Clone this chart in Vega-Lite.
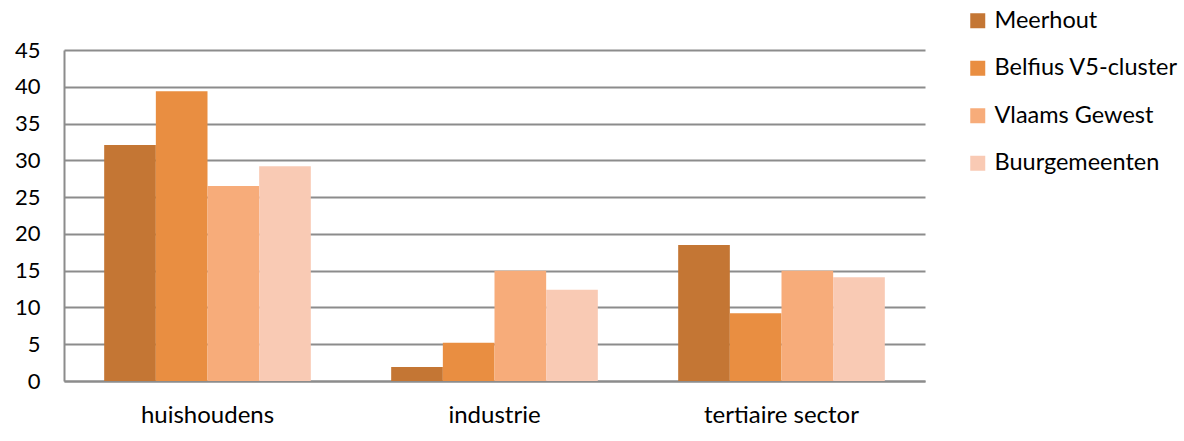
{
  "$schema": "https://vega.github.io/schema/vega-lite/v6.json",
  "autosize": "none",
  "padding": {"left": 64, "top": 50, "right": 259, "bottom": 60},
  "width": 861,
  "height": 331,
  "background": "white",
  "title": {
    "text": "Industrie en tertiaire sector in 2013",
    "anchor": "start",
    "frame": "group",
    "dx": -8,
    "dy": 30,
    "offset": 0,
    "baseline": "alphabetic",
    "font": "Lato",
    "fontSize": 44,
    "fontWeight": "bold",
    "color": "#000000"
  },
  "data": {
    "values": [
      {"sector": "huishoudens", "regio": "Meerhout", "waarde": 32.1},
      {"sector": "huishoudens", "regio": "Belfius V5-cluster", "waarde": 39.4},
      {"sector": "huishoudens", "regio": "Vlaams Gewest", "waarde": 26.5},
      {"sector": "huishoudens", "regio": "Buurgemeenten", "waarde": 29.2},
      {"sector": "industrie", "regio": "Meerhout", "waarde": 1.9},
      {"sector": "industrie", "regio": "Belfius V5-cluster", "waarde": 5.2},
      {"sector": "industrie", "regio": "Vlaams Gewest", "waarde": 15.0},
      {"sector": "industrie", "regio": "Buurgemeenten", "waarde": 12.4},
      {"sector": "tertiaire sector", "regio": "Meerhout", "waarde": 18.5},
      {"sector": "tertiaire sector", "regio": "Belfius V5-cluster", "waarde": 9.2},
      {"sector": "tertiaire sector", "regio": "Vlaams Gewest", "waarde": 15.0},
      {"sector": "tertiaire sector", "regio": "Buurgemeenten", "waarde": 14.1}
    ]
  },
  "mark": {"type": "bar"},
  "encoding": {
    "x": {
      "field": "sector",
      "type": "nominal",
      "sort": ["huishoudens", "industrie", "tertiaire sector"],
      "scale": {"paddingInner": 0.28, "paddingOuter": 0.14},
      "axis": {
        "title": null,
        "labelAngle": 0,
        "labelFont": "Lato",
        "labelFontSize": 24,
        "labelColor": "#000000",
        "labelPadding": 22,
        "ticks": false,
        "domainColor": "#8c8c8c",
        "domainWidth": 2,
        "grid": false
      }
    },
    "xOffset": {
      "field": "regio",
      "type": "nominal",
      "sort": ["Meerhout", "Belfius V5-cluster", "Vlaams Gewest", "Buurgemeenten"],
      "scale": {"paddingInner": 0, "paddingOuter": 0}
    },
    "y": {
      "field": "waarde",
      "type": "quantitative",
      "scale": {"domain": [0, 45], "nice": false},
      "axis": {
        "title": null,
        "values": [0, 5, 10, 15, 20, 25, 30, 35, 40, 45],
        "labelFont": "Lato",
        "labelFontSize": 22,
        "labelColor": "#000000",
        "labelPadding": 24,
        "ticks": false,
        "domainColor": "#8c8c8c",
        "domainWidth": 2,
        "gridColor": "#8c8c8c",
        "gridWidth": 2
      }
    },
    "color": {
      "field": "regio",
      "type": "nominal",
      "scale": {
        "domain": ["Meerhout", "Belfius V5-cluster", "Vlaams Gewest", "Buurgemeenten"],
        "range": ["#c47634", "#e98e41", "#f7ac7a", "#f9cab4"]
      },
      "legend": {
        "title": null,
        "orient": "none",
        "legendX": 902,
        "legendY": -41,
        "symbolType": "square",
        "symbolSize": 225,
        "symbolStrokeWidth": 0,
        "labelFont": "Lato",
        "labelFontSize": 23.5,
        "labelColor": "#000000",
        "labelOffset": 5,
        "labelLimit": 400,
        "rowPadding": 22.5
      }
    }
  },
  "config": {"view": {"stroke": null}}
}
